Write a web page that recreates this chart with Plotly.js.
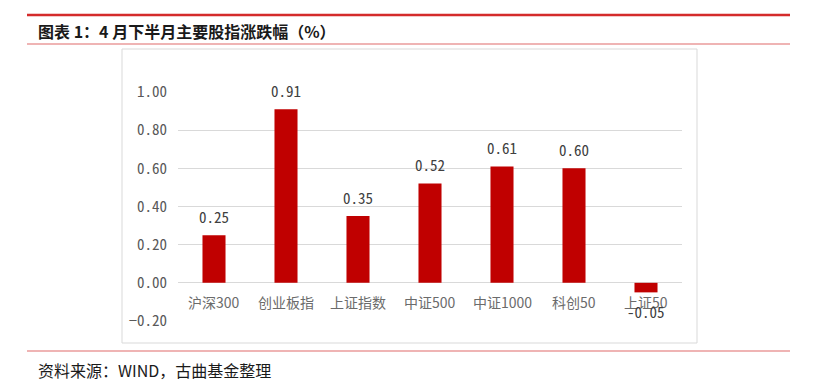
<!DOCTYPE html>
<html>
<head>
<meta charset="utf-8">
<script src="https://cdn.plot.ly/plotly-3.0.1.min.js"></script>
<style>html,body{margin:0;padding:0;background:#fff;}#chart{width:831px;height:388px;}</style>
</head>
<body>
<div id="chart"></div>
<script>
const categories = ["沪深300", "创业板指", "上证指数", "中证500", "中证1000", "科创50", "上证50"];
const values = [0.25, 0.91, 0.35, 0.52, 0.61, 0.60, -0.05];
const yTicks = [-0.20, 0.00, 0.20, 0.40, 0.60, 0.80, 1.00];
const titleText = "图表 1：4 月下半月主要股指涨跌幅（%）";
const sourceText = "资料来源：WIND，古曲基金整理";

const W = 831, H = 388;
const PL = 178, PR = 682, PT = 92, PB = 321;
const cjk = '"Noto Sans CJK SC", "Noto Sans", sans-serif';
const num = '"Noto Sans Mono CJK SC", "Noto Sans CJK SC", "Noto Sans", sans-serif';

const trace = {
  type: 'bar',
  x: categories,
  y: values,
  marker: {color: '#c00000'},
  hoverinfo: 'none'
};

// pixel -> paper (paper spans the plot area in Plotly)
const px = v => (v - PL) / (PR - PL);
const py = v => (PB - v) / (PB - PT);

const annotations = [];
categories.forEach((c, i) => {
  annotations.push({
    x: c, y: 0, xref: 'x', yref: 'y', yshift: -19,
    text: c, showarrow: false, yanchor: 'middle', xanchor: 'center',
    font: {family: cjk, size: 14, color: '#6b6b6b'}
  });
  annotations.push({
    x: c, y: values[i], xref: 'x', yref: 'y', yshift: values[i] >= 0 ? 19 : -19,
    text: values[i].toFixed(2), showarrow: false, yanchor: 'middle', xanchor: 'center',
    font: {family: num, size: 15, color: '#404040'}
  });
});
annotations.push({
  x: px(36), y: py(31), xref: 'paper', yref: 'paper', xanchor: 'left', yanchor: 'middle',
  text: '<b>' + titleText + '</b>', showarrow: false,
  font: {family: cjk, size: 16, color: '#1a1a1a'}
});
annotations.push({
  x: px(36), y: py(370), xref: 'paper', yref: 'paper', xanchor: 'left', yanchor: 'middle',
  text: sourceText, showarrow: false,
  font: {family: cjk, size: 16, color: '#1a1a1a'}
});

const shapes = [
  {type: 'line', xref: 'paper', yref: 'paper', x0: px(27), x1: px(790), y0: py(15), y1: py(15), line: {color: '#d42b2b', width: 2.5}},
  {type: 'line', xref: 'paper', yref: 'paper', x0: px(27), x1: px(790), y0: py(44), y1: py(44), line: {color: '#e06a6a', width: 1.2}},
  {type: 'line', xref: 'paper', yref: 'paper', x0: px(27), x1: px(790), y0: py(351), y1: py(351), line: {color: '#e06a6a', width: 1.2}},
  {type: 'rect', xref: 'paper', yref: 'paper', x0: px(122), x1: px(697), y0: py(49), y1: py(343), line: {color: '#d9d9d9', width: 1}, layer: 'below'}
];

const layout = {
  width: W, height: H,
  margin: {l: PL, r: W - PR, t: PT, b: H - PB, pad: 0},
  paper_bgcolor: '#ffffff', plot_bgcolor: '#ffffff',
  showlegend: false,
  bargap: 0.68,
  xaxis: {
    type: 'category', showticklabels: false, showgrid: false, zeroline: false, showline: false, ticks: ''
  },
  yaxis: {
    range: [-0.2, 1.0], tickvals: yTicks, tickformat: '.2f',
    showgrid: true, gridcolor: '#d9d9d9', gridwidth: 1,
    zeroline: true, zerolinecolor: '#d9d9d9', zerolinewidth: 1,
    showline: false, ticks: '', ticklabelstandoff: 10,
    tickfont: {family: num, size: 15, color: '#595959'}
  },
  annotations: annotations,
  shapes: shapes
};

Plotly.newPlot('chart', [trace], layout, {displayModeBar: false, staticPlot: true});
</script>
</body>
</html>
